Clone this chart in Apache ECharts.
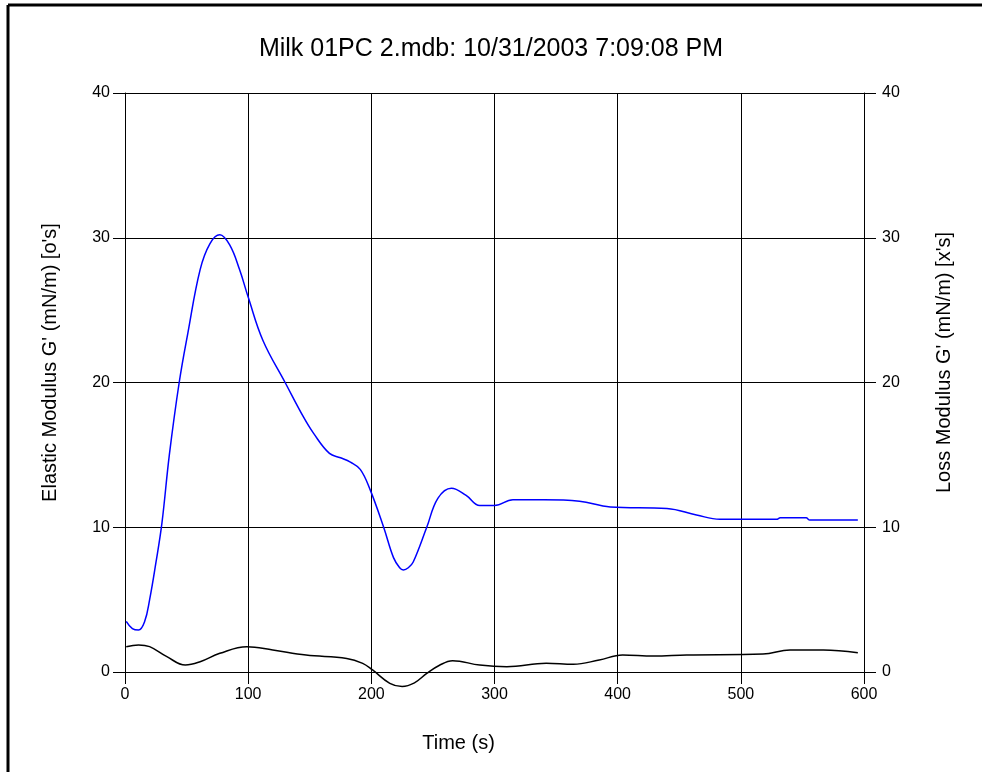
<!DOCTYPE html>
<html>
<head>
<meta charset="utf-8">
<script src="https://cdn.jsdelivr.net/npm/echarts@6/dist/echarts.min.js"></script>
<style>
  html, body { margin: 0; padding: 0; background: #fff; }
  #main { width: 982px; height: 772px; }
</style>
</head>
<body>
<div id="main"></div>
<script>
var myChart = echarts.init(document.getElementById('main'));

var titleText = 'Milk 01PC 2.mdb: 10/31/2003 7:09:08 PM';

// time (s), elastic modulus G' (blue)
var elasticData = [
  [1, 3.5], [6, 3.0], [11, 2.9], [16, 3.5], [20, 5.0], [25, 7.5], [30, 10.3],
  [36, 15.0], [44, 20.0], [51, 23.4], [61, 27.8], [69, 29.6], [77, 30.2],
  [85, 29.5], [93, 27.8], [100, 25.9], [112, 22.9], [130, 20.0], [145, 17.6],
  [153, 16.5], [166, 15.1], [175, 14.8], [183, 14.5], [191, 14.0], [199, 12.6],
  [210, 10.0], [218, 7.9], [223, 7.2], [226, 7.05], [230, 7.2], [234, 7.6],
  [245, 10.0], [254, 12.0], [265, 12.7], [277, 12.2], [288, 11.5], [300, 11.5],
  [315, 11.9], [340, 11.9], [369, 11.8], [394, 11.4], [440, 11.3], [464, 10.85],
  [483, 10.55], [529, 10.55], [532, 10.65], [553, 10.65], [556, 10.5], [595, 10.5]
];

// time (s), loss modulus G'' (black)
var lossData = [
  [1, 1.75], [11, 1.87], [20, 1.75], [34, 1.06], [49, 0.48], [61, 0.71],
  [77, 1.29], [99, 1.75], [120, 1.52], [147, 1.17], [180, 0.94], [193, 0.6],
  [201, 0.14], [215, -0.78], [225, -1.0], [235, -0.75], [245, -0.1], [255, 0.45],
  [266, 0.78], [288, 0.48], [310, 0.37], [342, 0.6], [364, 0.53], [385, 0.83],
  [404, 1.17], [429, 1.1], [456, 1.17], [518, 1.24], [540, 1.52], [567, 1.52],
  [595, 1.33]
];

var fontFam = '"Liberation Sans", Arial, sans-serif';

var yAxisCommon = {
  type: 'value',
  min: 0,
  max: 40,
  interval: 10,
  nameLocation: 'middle',
  axisLine: { show: true, lineStyle: { color: '#000', width: 1 } },
  axisTick: { show: true, length: 12, lineStyle: { color: '#000' } },
  splitLine: { show: true, lineStyle: { color: '#000', width: 1 } }
};

var option = {
  backgroundColor: '#fff',
  animation: false,
  title: {
    text: titleText,
    left: 'center',
    top: 32,
    textStyle: { color: '#000', fontSize: 25, fontWeight: 'normal', fontFamily: fontFam }
  },
  graphic: [
    { type: 'line', shape: { x1: 8, y1: 5, x2: 982, y2: 5 }, style: { stroke: '#000', lineWidth: 3 } },
    { type: 'line', shape: { x1: 8, y1: 5, x2: 8, y2: 772 }, style: { stroke: '#000', lineWidth: 3 } }
  ],
  grid: { left: 125, right: 118, top: 93, bottom: 100 },
  xAxis: {
    type: 'value',
    min: 0,
    max: 600,
    interval: 100,
    name: 'Time (s)',
    nameLocation: 'middle',
    nameGap: 61,
    nameTextStyle: { color: '#000', fontSize: 20, fontFamily: fontFam, padding: [0, 72, 0, 0] },
    axisLine: { show: true, lineStyle: { color: '#000', width: 1 } },
    axisTick: { show: true, length: 12, lineStyle: { color: '#000' } },
    axisLabel: { color: '#000', fontSize: 16, fontFamily: fontFam, margin: 15 },
    splitLine: { show: true, lineStyle: { color: '#000', width: 1 } }
  },
  yAxis: [
    Object.assign({}, yAxisCommon, {
      position: 'left',
      name: "Elastic Modulus G' (mN/m) [o's]",
      nameGap: 65,
      nameTextStyle: { color: '#000', fontSize: 20, fontFamily: fontFam, padding: [0, 0, 0, 40] },
      axisLabel: { color: '#000', fontSize: 16, fontFamily: fontFam, margin: 15 }
    }),
    Object.assign({}, yAxisCommon, {
      position: 'right',
      name: "Loss Modulus G' (mN/m) [x's]",
      nameGap: 70,
      nameTextStyle: { color: '#000', fontSize: 20, fontFamily: fontFam, padding: [0, 0, 0, 40] },
      axisLabel: { color: '#000', fontSize: 16, fontFamily: fontFam, margin: 18 }
    })
  ],
  series: [
    {
      type: 'line',
      data: elasticData,
      yAxisIndex: 0,
      smooth: 0.4,
      showSymbol: false,
      clip: false,
      lineStyle: { color: '#0000ff', width: 1.5 },
      z: 3
    },
    {
      type: 'line',
      data: lossData,
      yAxisIndex: 1,
      smooth: 0.4,
      showSymbol: false,
      clip: false,
      lineStyle: { color: '#000', width: 1.5 },
      z: 3
    }
  ]
};

myChart.setOption(option);
</script>
</body>
</html>
